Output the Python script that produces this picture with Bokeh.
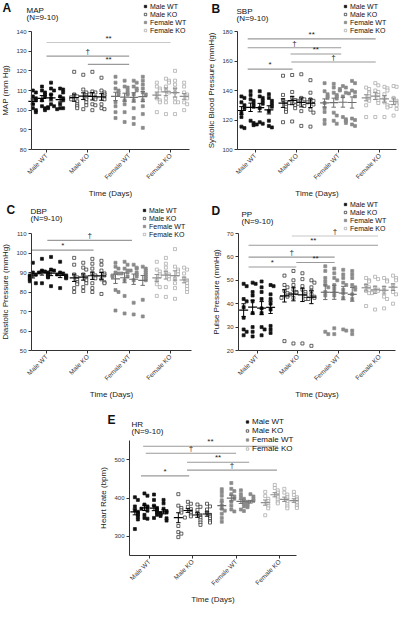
import math
from bokeh.plotting import figure
from bokeh.models import Range1d, FixedTicker, Label, Legend, LegendItem, Spacer
from bokeh.layouts import row, column
from bokeh.core.properties import value
from bokeh.embed import file_html
from bokeh.resources import INLINE

FONT = "Liberation Sans"
GROUPS = ["Male WT", "Male KO", "Female WT", "Female KO"]

# ---------------- data (4 days per group, individual animals) ----------------
MAP_MALE_WT = [[110, 109, 107, 106, 105, 103, 101, 100, 99],
               [112, 110, 109, 108, 107, 105, 102, 101, 100],
               [114, 111, 110, 108, 106, 103, 102, 101.5, 101],
               [111, 110.5, 109, 107, 106, 105, 103, 101, 101, 100.5]]
MAP_MALE_KO = [[119.5, 108, 107, 106.5, 105.5, 104.5, 103, 102, 101],
               [118, 110.5, 109, 107.5, 106.5, 105.5, 104, 102.5, 100.5],
               [119.5, 109.5, 109, 108, 106.5, 105.5, 103, 102.5, 100],
               [116.5, 110, 109, 108, 107, 105.5, 103, 101, 100.5]]
MAP_FEMALE_WT = [[117, 114, 111, 110, 109, 108, 104, 102, 99, 96],
                 [115, 112, 111.5, 110, 108.5, 108, 105, 103, 99, 94],
                 [115, 114, 112, 111, 110, 108, 105, 101, 96, 93],
                 [117, 115, 113, 111, 109, 108, 105, 102, 98, 91]]
MAP_FEMALE_KO = [[114, 112, 111, 110, 108, 106, 105, 104, 99],
                 [116, 115, 114, 112, 110, 109, 106, 104, 98],
                 [120, 115, 113, 111, 109, 106, 104, 104, 98],
                 [114, 112, 109, 108, 107, 106, 104, 103, 100]]

SBP_MALE_WT = [[136, 135, 132, 130, 128, 125, 122, 115.5, 114.5],
               [139.5, 137, 134, 133, 131, 129, 119.5, 118, 116.5],
               [139.5, 136, 135, 133, 131, 128, 118.5, 117.5, 117],
               [137.5, 135, 133, 131, 129, 126, 119.5, 116, 115]]
SBP_MALE_KO = [[150, 137, 133.5, 132, 130.5, 129, 127, 125.5, 118.5],
               [150.5, 139, 135, 133.5, 132.5, 131.5, 130, 128, 119],
               [151, 135, 134, 133, 132, 131, 129.5, 126, 116],
               [147, 138.5, 134, 133, 132, 130.5, 127, 125, 115.5]]
SBP_FEMALE_WT = [[145, 139.5, 137.5, 136, 135, 131.5, 128, 125.5, 120, 117.5],
                 [144.5, 142, 138.5, 137, 136, 134.5, 125, 123, 119.5, 117.5],
                 [143, 142, 141, 140, 138.5, 136, 122, 120.5, 119.5, 118],
                 [146.5, 145, 140, 139, 138, 136, 121, 120, 117, 116]]
SBP_FEMALE_KO = [[142, 141, 139, 138, 136, 134.5, 133, 130, 122],
                 [145, 143.5, 140, 139, 137, 135, 133, 131.5, 122],
                 [142.5, 141.5, 140, 137.5, 135, 132, 130, 128.5, 122],
                 [143, 142.5, 135, 133, 131, 130, 129.5, 127.5, 123]]

DBP_MALE_WT = [[95, 90, 89, 88.5, 88, 87, 86.5, 85.5, 84.5],
               [97, 91, 90.5, 90, 89.5, 89, 88.5, 88, 84.5],
               [98, 91.5, 91, 90, 89.5, 89, 88, 87.5, 83],
               [95.5, 90, 89.5, 89, 88.5, 88, 87.5, 87, 82]]
DBP_MALE_KO = [[97.5, 94, 89, 87.5, 86.5, 85, 84, 82, 80],
               [95, 92.5, 91.5, 89, 87.5, 86, 84.5, 82.5, 80.5],
               [97, 94.5, 92, 89.5, 88.5, 87, 84.5, 82, 80],
               [96, 94, 91, 89.5, 88.5, 86.5, 85, 84.5, 79]]
DBP_FEMALE_WT = [[95, 93, 92, 90, 89.5, 88.5, 88, 81, 80, 70.5],
                 [95.5, 94, 92, 91, 90, 89.5, 88, 86, 78, 69],
                 [94, 92.5, 92, 91, 90, 89, 88, 86, 74.5, 68.5],
                 [93, 92, 91, 90, 89, 88, 87, 86, 76, 67.5]]
DBP_FEMALE_KO = [[95.5, 91.5, 90.5, 89, 88, 86, 84, 82.5, 78],
                 [97.5, 94.5, 92.5, 90, 89, 88, 86.5, 82.5, 77.5],
                 [102, 93, 91.5, 90.5, 89, 87, 84.5, 82, 76.5],
                 [92.5, 91.5, 89.5, 87, 86, 84.5, 83, 81.5, 80]]

PP_MALE_WT = [[48.5, 47.5, 42, 41, 38.5, 34, 29, 28, 26.5],
              [49, 48.5, 45, 43.5, 41, 36, 30, 28, 26],
              [49.5, 47, 45, 42, 38, 36, 30, 29, 26.5],
              [48, 47.5, 44, 42, 40, 37.5, 30.5, 29, 27.5]]
PP_MALE_KO = [[52, 48, 47, 45.5, 44.5, 43.5, 43, 42.5, 24],
              [54, 50, 48, 46, 45, 44.5, 44, 42.5, 23],
              [53, 50.5, 47.5, 46, 45, 44, 43, 42, 23],
              [50, 49, 47, 45.5, 44, 43, 42.5, 42, 22]]
PP_FEMALE_WT = [[56, 54, 51, 49.5, 48, 47, 45, 43.5, 28, 27],
                [55, 53, 51, 50, 48, 46.5, 45, 43.5, 29.5, 27],
                [54.5, 52.5, 51, 49, 48, 46, 44.5, 42.5, 29, 28.5],
                [54, 52.5, 51, 48, 47, 46, 44, 42, 28.5, 27]]
PP_FEMALE_KO = [[51, 50, 49.5, 48, 47, 45.5, 44.5, 39],
                [51.5, 50.5, 47, 46, 45.5, 45, 44.5, 37.5],
                [51, 50, 49.5, 47, 45.5, 43, 42, 38],
                [52, 51, 50, 48, 46.5, 45, 44, 40]]

HR_MALE_WT = [[402, 395, 378, 368, 364, 360, 356, 351, 344, 319],
              [412, 406, 383, 378, 375, 372, 367, 356, 348, 346],
              [409, 395, 380, 374, 370, 366, 362, 356, 348],
              [395, 386, 372, 366, 362, 360, 357, 353, 347, 341]]
HR_MALE_KO = [[410, 380, 374, 368, 362, 327, 311, 307, 298],
              [390, 385, 377, 371, 365, 361, 356, 352, 349],
              [383, 377, 369, 361, 355, 348, 342, 336, 330],
              [385, 378, 370, 362, 356, 351, 346, 340, 336]]
HR_FEMALE_WT = [[423, 415, 406, 394, 381, 372, 367, 359, 348, 338],
                [439, 424, 418, 410, 404, 398, 390, 380, 370, 365],
                [420, 410, 402, 398, 393, 390, 385, 378, 370, 366],
                [410, 404, 397, 393, 390, 387, 385, 382, 378, 376]]
HR_FEMALE_KO = [[416, 405, 398, 392, 386, 379, 373, 355],
                [434, 426, 420, 414, 408, 402, 396, 390, 386],
                [424, 414, 409, 402, 396, 390, 384, 378, 373],
                [416, 408, 402, 398, 394, 388, 382, 378, 374]]

# significance comparisons: (from group, to group, level, mark)
MAP_SIG = [(0, 3, 134.4, "**"), (0, 2, 127.5, "\u2020"), (1, 2, 123.3, "**")]
SBP_SIG = [(-0.18, 2.9, 175, "**"), (-0.18, 2.07, 169, "\u2020"), (0.85, 2.07, 164.7, "**"),
           (0.87, 2.9, 159.3, "\u2020"), (-0.18, 0.9, 154.5, "*")]
DBP_SIG = [(0.02, 2.07, 106.5, "\u2020"), (-0.35, 1.14, 101.5, "*")]
PP_SIG = [(0.85, 2.96, 68.9, "\u2020"), (-0.21, 2.96, 65, "**"), (-0.21, 1.9, 59.9, "\u2020"),
          (0.96, 1.9, 57.6, "**"), (-0.21, 0.96, 55.7, "*")]
HR_SIG = [(-0.14, 2.96, 535, "**"), (-0.08, 2.0, 516.6, "\u2020"), (0.87, 2.3, 493.4, "**"),
          (0.87, 2.94, 472.6, "\u2020"), (-0.19, 0.92, 457.7, "*")]

# ---------------- styling ----------------
DAY_OFFSETS = [-0.33, -0.11, 0.11, 0.33]
STYLE = {
    "Male WT": dict(fill="#111111", line="#111111", mean="#000000"),
    "Male KO": dict(fill="#ffffff", line="#222222", mean="#000000"),
    "Female WT": dict(fill="#8a8a8a", line="#8a8a8a", mean="#6e6e6e"),
    "Female KO": dict(fill="#ffffff", line="#a4a4a4", mean="#8e8e8e"),
}
AXC = "#333333"
MSIZE = 3.0


def swarm(vals, ythr, xstep):
    placed, offs = [], []
    slots = [0, 1, -1, 2, -2, 3, -3, 4, -4]
    for v in vals:
        k = sum(1 for pv in placed if abs(pv - v) < ythr)
        offs.append(slots[min(k, len(slots) - 1)] * xstep)
        placed.append(v)
    return offs


def make_panel(cfg):
    W, H = cfg["size"]
    PL, PR, PT, PB = cfg["plot"]
    xa, xb = cfg["xr"]
    ya, yb = cfg["yr"]
    ppx = (PR - PL) / (xb - xa)
    ppy = (PB - PT) / (yb - ya)
    xr = Range1d(xa - PL / ppx, xb + (W - PR) / ppx)
    yr = Range1d(ya - (H - PB) / ppy, yb + PT / ppy)
    p = figure(width=W, height=H, x_range=xr, y_range=yr, output_backend="svg",
               toolbar_location=None, min_border=0, min_border_left=0, min_border_right=0,
               min_border_top=0, min_border_bottom=0)
    p.outline_line_color = None
    p.xgrid.visible = False
    p.ygrid.visible = False

    def dx(xl):
        return xr.start + xl / ppx

    def dy(yl):
        return yr.end - yl / ppy

    # significance lines
    for (a, b, lvl, mark), col in zip(cfg["sig"], cfg["sigcol"]):
        p.segment(x0=[a], y0=[lvl], x1=[b], y1=[lvl], line_color=col, line_width=1.1)
        p.text(x=[(a + b) / 2], y=[lvl], text=[mark], text_font=value(FONT), text_font_size="8px",
               text_align="center", text_baseline="bottom", text_color="#222222")

    rends = {}
    for gi, g in enumerate(GROUPS):
        st = STYLE[g]
        xs, ys = [], []
        mx, mm, lo, hi = [], [], [], []
        for di, vals in enumerate(cfg["data"][gi]):
            cx = gi + DAY_OFFSETS[di]
            offs = swarm(vals, 3.0 / ppy, 3.0 / ppx)
            xs += [cx + o for o in offs]
            ys += list(vals)
            n = len(vals)
            m = sum(vals) / n
            sd = math.sqrt(sum((v - m) ** 2 for v in vals) / (n - 1))
            se = sd / math.sqrt(n)
            mx.append(cx); mm.append(m); lo.append(m - se); hi.append(m + se)
        rends[g] = p.scatter(xs, ys, marker="square", size=MSIZE, fill_color=st["fill"],
                             line_color=st["line"], line_width=0.7)
        hw = 4.5 / ppx
        cw = 2.2 / ppx
        p.segment(x0=[c - hw for c in mx], y0=mm, x1=[c + hw for c in mx], y1=mm,
                  line_color=st["mean"], line_width=1.2)
        p.segment(x0=mx, y0=lo, x1=mx, y1=hi, line_color=st["mean"], line_width=1)
        p.segment(x0=[c - cw for c in mx], y0=lo, x1=[c + cw for c in mx], y1=lo,
                  line_color=st["mean"], line_width=1)
        p.segment(x0=[c - cw for c in mx], y0=hi, x1=[c + cw for c in mx], y1=hi,
                  line_color=st["mean"], line_width=1)

    # axes, fixed at the corner of the data box
    p.xaxis.fixed_location = ya
    p.xaxis.bounds = (xa, xb)
    p.yaxis.fixed_location = xa
    p.yaxis.bounds = (ya, yb)
    p.xaxis.ticker = FixedTicker(ticks=[0, 1, 2, 3])
    p.xaxis.major_label_overrides = {i: g for i, g in enumerate(GROUPS)}
    p.xaxis.major_label_orientation = math.pi / 4
    p.xaxis.axis_label = "Time (Days)"
    p.yaxis.ticker = FixedTicker(ticks=cfg["yticks"])
    p.yaxis.axis_label = cfg["ylabel"]
    for ax in (p.xaxis[0], p.yaxis[0]):
        ax.axis_line_color = AXC
        ax.major_tick_line_color = AXC
        ax.major_tick_out = 3
        ax.major_tick_in = 0
        ax.minor_tick_line_color = None
        ax.major_label_text_font = FONT
        ax.major_label_text_color = "#333333"
        ax.axis_label_text_font = FONT
        ax.axis_label_text_font_style = "normal"
        ax.axis_label_text_color = "#222222"
        ax.major_label_standoff = 2
        ax.axis_label_standoff = 3
    p.xaxis.major_label_text_font_size = "6.5px"
    p.yaxis.major_label_text_font_size = "6px"
    p.xaxis.axis_label_text_font_size = "8px"
    p.yaxis.axis_label_text_font_size = "8px"

    # panel letter and titles (positions in canvas pixels)
    def txt(x, y, t, size, bold=False):
        p.add_layout(Label(x=dx(x), y=dy(y), text=t, text_font=FONT, text_font_size=size,
                           text_baseline="top", text_align="left", text_color="#111111",
                           text_font_style="bold" if bold else "normal"))
    lx, ly = cfg["letter_pos"]
    txt(lx, ly, cfg["letter"], "12px", True)
    tx, ty = cfg["title_pos"]
    txt(tx, ty, cfg["title"], "8px")
    txt(tx, ty + 7.5, "(N=9-10)", "8px")

    gx, gy = cfg["legend_pos"]
    fs = cfg.get("legend_font", 7)
    LH = 4 * (fs + 1)
    leg = Legend(items=[LegendItem(label=g, renderers=[rends[g]]) for g in GROUPS],
                 location=(gx, H - gy - LH), orientation="vertical",
                 label_text_font=FONT, label_text_font_size=f"{fs}px", label_text_color="#111111",
                 glyph_width=6, glyph_height=fs + 1, label_height=fs + 1, spacing=0, padding=0,
                 margin=0, border_line_color=None, background_fill_alpha=0, label_standoff=2)
    p.add_layout(leg)
    return p


GL = "#9a9a9a"
LT = "#c8c8c8"
pA = make_panel(dict(size=(200, 200), plot=(31, 189, 31, 149), xr=(-0.363, 3.46), yr=(80, 140),
                     yticks=[80, 90, 100, 110, 120, 130, 140], ylabel="MAP (mm Hg)",
                     data=[MAP_MALE_WT, MAP_MALE_KO, MAP_FEMALE_WT, MAP_FEMALE_KO],
                     sig=MAP_SIG, sigcol=[LT, GL, GL], letter="A", letter_pos=(2, 0),
                     title="MAP", title_pos=(26, 5), legend_pos=(142, 2)))
pB = make_panel(dict(size=(200, 200), plot=(37, 196, 31, 149), xr=(-0.425, 3.40), yr=(100, 180),
                     yticks=[100, 120, 140, 160, 180], ylabel="Systolic Blood Pressure (mmHg)",
                     data=[SBP_MALE_WT, SBP_MALE_KO, SBP_FEMALE_WT, SBP_FEMALE_KO],
                     sig=SBP_SIG, sigcol=[GL, GL, GL, GL, GL], letter="B", letter_pos=(11, 1),
                     title="SBP", title_pos=(36, 6), legend_pos=(142, 2)))
pC = make_panel(dict(size=(200, 200), plot=(31, 191, 33, 150), xr=(-0.363, 3.51), yr=(50, 110),
                     yticks=[50, 60, 70, 80, 90, 100, 110], ylabel="Diastolic Pressure (mmHg)",
                     data=[DBP_MALE_WT, DBP_MALE_KO, DBP_FEMALE_WT, DBP_FEMALE_KO],
                     sig=DBP_SIG, sigcol=[GL, GL], letter="C", letter_pos=(6, 2),
                     title="DBP", title_pos=(30, 6), legend_pos=(141, 6)))
pD = make_panel(dict(size=(200, 200), plot=(38, 195, 33, 150), xr=(-0.456, 3.39), yr=(20, 70),
                     yticks=[20, 30, 40, 50, 60, 70], ylabel="Pulse Pressure (mmHg)",
                     data=[PP_MALE_WT, PP_MALE_KO, PP_FEMALE_WT, PP_FEMALE_KO],
                     sig=PP_SIG, sigcol=[LT, GL, GL, GL, GL], letter="D", letter_pos=(11, 3),
                     title="PP", title_pos=(41, 9), legend_pos=(142, 0)))
pE = make_panel(dict(size=(200, 204), plot=(29, 196, 40, 155), xr=(-0.454, 3.39), yr=(250, 550),
                     yticks=[300, 400, 500], ylabel="Heart Rate (bpm)",
                     data=[HR_MALE_WT, HR_MALE_KO, HR_FEMALE_WT, HR_FEMALE_KO],
                     sig=HR_SIG, sigcol=[GL, GL, GL, GL, GL], letter="E", letter_pos=(7, 12),
                     title="HR", title_pos=(31, 19), legend_pos=(144, 17), legend_font=8))

layout = column(row(pA, pB), row(pC, pD), row(Spacer(width=100, height=204), pE))
open("out.html", "w").write(file_html(layout, INLINE))
